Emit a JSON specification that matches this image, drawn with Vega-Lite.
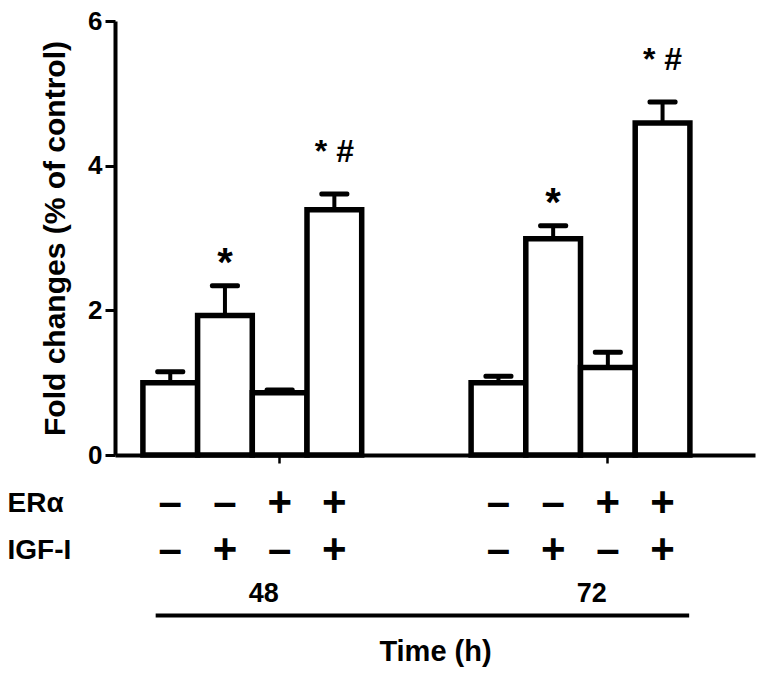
{
  "$schema": "https://vega.github.io/schema/vega-lite/v6.json",
  "padding": {"left": 7, "top": 8, "right": 5, "bottom": 5},
  "background": "white",
  "config": {
    "font": "Liberation Sans",
    "view": {"stroke": null},
    "axis": {"labelFont": "Liberation Sans", "titleFont": "Liberation Sans", "labelColor": "black", "titleColor": "black", "domainColor": "black", "tickColor": "black"}
  },
  "spacing": 12,
  "resolve": {"scale": {"x": "independent"}},
  "vconcat": [
    {
      "width": 640,
      "height": 434,
      "data": {"values": [
        {"cat": "b1", "time": "48", "value": 1.0, "err": 1.15, "sig": ""},
        {"cat": "b2", "time": "48", "value": 1.93, "err": 2.34, "sig": "*"},
        {"cat": "b3", "time": "48", "value": 0.86, "err": 0.9, "sig": ""},
        {"cat": "b4", "time": "48", "value": 3.39, "err": 3.61, "sig": "*  #"},
        {"cat": "b5", "time": "72", "value": 1.0, "err": 1.09, "sig": ""},
        {"cat": "b6", "time": "72", "value": 2.99, "err": 3.17, "sig": "*"},
        {"cat": "b7", "time": "72", "value": 1.21, "err": 1.42, "sig": ""},
        {"cat": "b8", "time": "72", "value": 4.59, "err": 4.88, "sig": "* #"}
      ]},
      "encoding": {
        "x": {
          "field": "cat", "type": "nominal",
          "scale": {"domain": ["b1", "b2", "b3", "b4", "g1", "g2", "b5", "b6", "b7", "b8"], "paddingInner": 0, "paddingOuter": 0.85, "align": 0.3},
          "axis": {"values": ["b3", "b7"], "labels": false, "title": null, "domainWidth": 4, "tickSize": 8, "tickWidth": 2.5}
        }
      },
      "layer": [
        {
          "mark": {"type": "rule", "strokeWidth": 4, "color": "black"},
          "encoding": {
            "y": {"field": "value", "type": "quantitative"},
            "y2": {"field": "err"}
          }
        },
        {
          "mark": {"type": "bar", "fill": "white", "stroke": "black", "strokeWidth": 5.5},
          "encoding": {
            "y": {
              "field": "value", "type": "quantitative",
              "scale": {"domain": [0, 6], "nice": false},
              "axis": {
                "values": [0, 2, 4, 6], "format": "d", "grid": false,
                "title": "Fold changes (% of control)", "titleFontSize": 30, "titleFontWeight": "bold", "titlePadding": 17,
                "labelFontSize": 26, "labelFontWeight": "bold", "labelPadding": 3,
                "domainWidth": 4, "tickSize": 10, "tickWidth": 3
              }
            }
          }
        },
        {
          "mark": {"type": "tick", "color": "black", "opacity": 1, "size": 30, "thickness": 5, "cornerRadius": 2},
          "encoding": {"y": {"field": "err", "type": "quantitative"}}
        },
        {
          "transform": [{"filter": "datum.sig == '*'"}],
          "mark": {"type": "text", "fontSize": 40, "fontWeight": "bold", "baseline": "middle", "dy": -22, "color": "black"},
          "encoding": {"y": {"field": "err", "type": "quantitative"}, "text": {"field": "sig"}}
        },
        {
          "transform": [{"filter": "length(datum.sig) > 1"}],
          "mark": {"type": "text", "fontSize": 32, "fontWeight": "bold", "baseline": "middle", "dy": -42, "color": "black"},
          "encoding": {"y": {"field": "err", "type": "quantitative"}, "text": {"field": "sig"}}
        }
      ]
    },
    {
      "width": 640,
      "height": 141,
      "encoding": {
        "x": {
          "field": "cat", "type": "nominal",
          "scale": {"domain": ["b1", "b2", "b3", "b4", "g1", "g2", "b5", "b6", "b7", "b8"], "paddingInner": 0, "paddingOuter": 0.85, "align": 0.3},
          "axis": {"domain": false, "ticks": false, "labels": false, "title": "Time (h)", "titleFontSize": 29, "titleFontWeight": "bold", "titlePadding": 16}
        },
        "y": {
          "field": "row", "type": "nominal",
          "scale": {"domain": ["ERα", "IGF-I", "time"], "paddingInner": 0, "paddingOuter": 0},
          "axis": {"title": null, "domain": false, "ticks": false, "tickSize": 0, "labelAlign": "left", "labelPadding": 108, "labelFontSize": 28, "labelFontWeight": "bold", "labelExpr": "datum.value == 'time' ? '' : datum.value"}
        }
      },
      "layer": [
        {
          "data": {"values": [
            {"cat": "b1", "row": "ERα", "sign": "–"},
            {"cat": "b2", "row": "ERα", "sign": "–"},
            {"cat": "b3", "row": "ERα", "sign": "+"},
            {"cat": "b4", "row": "ERα", "sign": "+"},
            {"cat": "b5", "row": "ERα", "sign": "–"},
            {"cat": "b6", "row": "ERα", "sign": "–"},
            {"cat": "b7", "row": "ERα", "sign": "+"},
            {"cat": "b8", "row": "ERα", "sign": "+"},
            {"cat": "b1", "row": "IGF-I", "sign": "–"},
            {"cat": "b2", "row": "IGF-I", "sign": "+"},
            {"cat": "b3", "row": "IGF-I", "sign": "–"},
            {"cat": "b4", "row": "IGF-I", "sign": "+"},
            {"cat": "b5", "row": "IGF-I", "sign": "–"},
            {"cat": "b6", "row": "IGF-I", "sign": "+"},
            {"cat": "b7", "row": "IGF-I", "sign": "–"},
            {"cat": "b8", "row": "IGF-I", "sign": "+"}
          ]},
          "mark": {"type": "text", "fontSize": 42, "fontWeight": "bold", "baseline": "middle", "dy": -1, "color": "black"},
          "encoding": {"text": {"field": "sign"}}
        },
        {
          "data": {"values": [
            {"cat": "b3", "row": "time", "label": "48"},
            {"cat": "b7", "row": "time", "label": "72"}
          ]},
          "mark": {"type": "text", "fontSize": 27, "fontWeight": "bold", "baseline": "middle", "dx": -16, "dy": -4, "color": "black"},
          "encoding": {"text": {"field": "label"}}
        },
        {
          "data": {"values": [{"cat": "b1", "cat_end": "b8", "row": "time"}]},
          "mark": {"type": "rule", "strokeWidth": 4, "color": "black", "yOffset": 18, "strokeCap": "square"},
          "encoding": {"x": {"field": "cat", "type": "nominal", "bandPosition": 0.27}, "x2": {"field": "cat_end", "bandPosition": 0.95}}
        }
      ]
    }
  ]
}
